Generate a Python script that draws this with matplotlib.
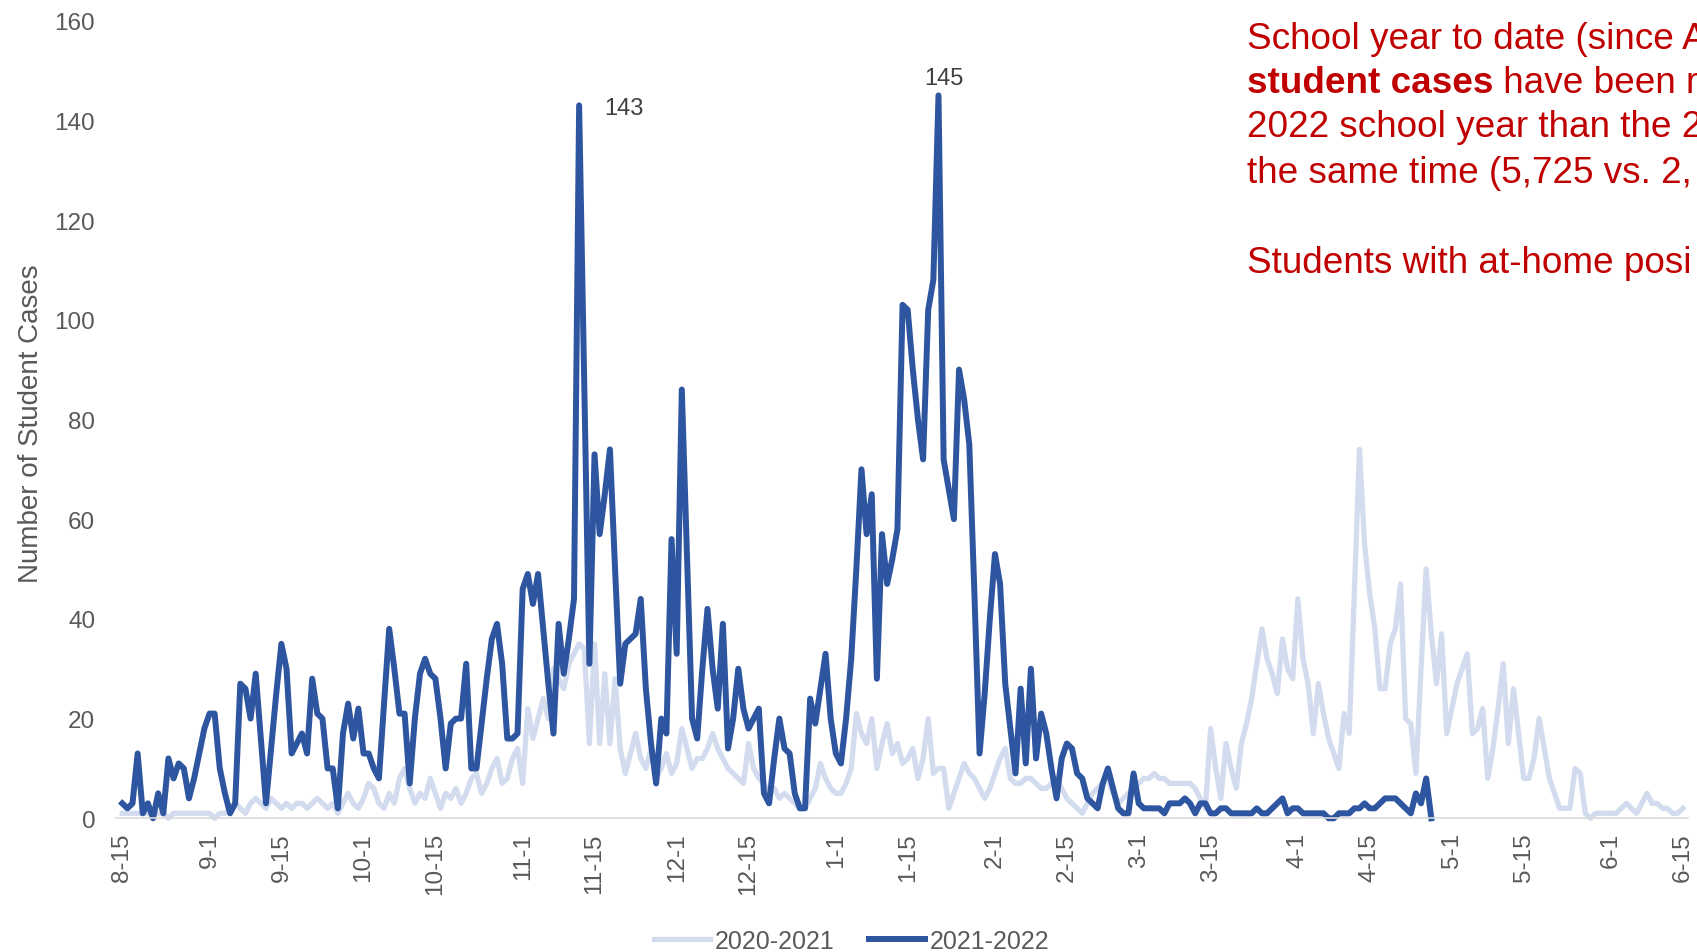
import numpy as np
import pandas as pd
import matplotlib
matplotlib.use("Agg")
import matplotlib.pyplot as plt

plt.rcParams['font.family'] = ['Liberation Sans', 'DejaVu Sans']

# daily student cases, both school years lined up from Aug 15
start = pd.Timestamp('2021-08-15')

cases_2021 = [
    1, 1, 1, 1, 1, 1, 1, 1, 1, 0,
    1, 1, 1, 1, 1, 1, 1, 1, 0, 1,
    1, 2, 3, 2, 1, 3, 4, 3, 2, 4,
    3, 2, 3, 2, 3, 3, 2, 3, 4, 3,
    2, 3, 1, 3, 5, 3, 2, 4, 7, 6,
    3, 2, 5, 3, 8, 10, 6, 3, 5, 4,
    8, 5, 2, 5, 4, 6, 3, 5, 8, 9,
    5, 7, 10, 12, 7, 8, 12, 14, 7, 22,
    16, 20, 24, 20, 30, 28, 26, 31, 33, 35,
    34, 15, 35, 15, 29, 15, 28, 14, 9, 13,
    17, 12, 10, 14, 8, 10, 13, 9, 11, 18,
    14, 10, 12, 12, 14, 17, 14, 12, 10, 9,
    8, 7, 15, 10, 8, 7, 5, 6, 4, 5,
    4, 3, 2, 2, 4, 6, 11, 8, 6, 5,
    5, 7, 10, 21, 17, 15, 20, 10, 15, 19,
    13, 15, 11, 12, 14, 8, 12, 20, 9, 10,
    10, 2, 5, 8, 11, 9, 8, 6, 4, 6,
    9, 12, 14, 8, 7, 7, 8, 8, 7, 6,
    6, 7, 8, 6, 4, 3, 2, 1, 3, 5,
    6, 7, 8, 5, 3, 4, 5, 6, 7, 8,
    8, 9, 8, 8, 7, 7, 7, 7, 7, 6,
    4, 2, 18, 10, 4, 15, 10, 6, 15, 19,
    24, 31, 38, 32, 29, 25, 36, 30, 28, 44,
    32, 27, 17, 27, 21, 16, 13, 10, 21, 17,
    45, 74, 55, 45, 38, 26, 26, 35, 38, 47,
    20, 19, 9, 30, 50, 37, 27, 37, 17, 22,
    27, 30, 33, 17, 18, 22, 8, 14, 22, 31,
    15, 26, 17, 8, 8, 12, 20, 14, 8, 5,
    2, 2, 2, 10, 9, 1, 0, 1, 1, 1,
    1, 1, 2, 3, 2, 1, 3, 5, 3, 3,
    2, 2, 1, 1, 2,
]

cases_2122 = [
    3, 2, 3, 13, 1, 3, 0, 5, 1, 12,
    8, 11, 10, 4, 8, 13, 18, 21, 21, 10,
    5, 1, 3, 27, 26, 20, 29, 16, 3, 14,
    25, 35, 30, 13, 15, 17, 13, 28, 21, 20,
    10, 10, 2, 17, 23, 16, 22, 13, 13, 10,
    8, 23, 38, 30, 21, 21, 7, 20, 29, 32,
    29, 28, 20, 10, 19, 20, 20, 31, 10, 10,
    19, 28, 36, 39, 31, 16, 16, 17, 46, 49,
    43, 49, 38, 27, 17, 39, 29, 36, 44, 143,
    87, 31, 73, 57, 65, 74, 50, 27, 35, 36,
    37, 44, 26, 15, 7, 20, 17, 56, 33, 86,
    53, 20, 16, 30, 42, 30, 22, 39, 14, 20,
    30, 22, 18, 20, 22, 5, 3, 12, 20, 14,
    13, 5, 2, 2, 24, 19, 26, 33, 20, 13,
    11, 20, 32, 50, 70, 57, 65, 28, 57, 47,
    52, 58, 103, 102, 90, 80, 72, 102, 108, 145,
    72, 66, 60, 90, 84, 75, 45, 13, 25, 40,
    53, 47, 27, 18, 9, 26, 11, 30, 12, 21,
    17, 10, 4, 12, 15, 14, 9, 8, 4, 3,
    2, 7, 10, 6, 2, 1, 1, 9, 3, 2,
    2, 2, 2, 1, 3, 3, 3, 4, 3, 1,
    3, 3, 1, 1, 2, 2, 1, 1, 1, 1,
    1, 2, 1, 1, 2, 3, 4, 1, 2, 2,
    1, 1, 1, 1, 1, 0, 0, 1, 1, 1,
    2, 2, 3, 2, 2, 3, 4, 4, 4, 3,
    2, 1, 5, 3, 8, 0,
]

tick_labels = ['8-15', '9-1', '9-15', '10-1', '10-15', '11-1', '11-15',
               '12-1', '12-15', '1-1', '1-15', '2-1', '2-15', '3-1', '3-15',
               '4-1', '4-15', '5-1', '5-15', '6-1', '6-15']
peak_values = [143, 145]


def label_to_day(lbl):
    m, d = map(int, lbl.split('-'))
    year = 2021 if m >= 8 else 2022
    return (pd.Timestamp(year=year, month=m, day=d) - start).days


tick_pos = [label_to_day(t) for t in tick_labels]
days_2021 = np.arange(len(cases_2021))
days_2122 = np.arange(len(cases_2122))

grey = '#595959'
light = '#D3DCEE'
dark = '#2E55A0'

fig = plt.figure(figsize=(16.97, 9.53), dpi=100)
ax = fig.add_axes([0.0684, 0.1403, 0.9263, 0.837])

ax.plot(days_2021, cases_2021, color=light, lw=3.8, label='2020-2021',
        clip_on=False, solid_joinstyle='round')
ax.plot(days_2122, cases_2122, color=dark, lw=4.3, label='2021-2022',
        clip_on=False, solid_joinstyle='round')

ax.set_xlim(-1.2, 305)
ax.set_ylim(0, 160)
ax.set_xticks(tick_pos)
ax.set_xticklabels(tick_labels)
ax.set_yticks(range(0, 161, 20))
ax.tick_params(axis='x', rotation=90, length=0, pad=10, labelsize=17.5,
               labelcolor=grey)
ax.tick_params(axis='y', length=0, pad=15, labelsize=17.5, labelcolor=grey)
for s in ['top', 'right', 'left']:
    ax.spines[s].set_visible(False)
ax.spines['bottom'].set_color('#D9D9D9')
ax.spines['bottom'].set_linewidth(1.2)

# peak labels
i1 = cases_2122.index(peak_values[0])
ax.annotate(str(cases_2122[i1]), xy=(i1, cases_2122[i1]), xytext=(18, -6.5),
            textcoords='offset points', ha='left', va='baseline',
            fontsize=17, color='#404040')
i2 = cases_2122.index(peak_values[1])
ax.annotate(str(cases_2122[i2]), xy=(i2, cases_2122[i2]), xytext=(4, 8),
            textcoords='offset points', ha='center', va='baseline',
            fontsize=17, color='#404040')

fig.text(0.0181, 0.555, 'Number of Student Cases', rotation=90,
         ha='center', va='center', fontsize=20, color=grey)

fig.legend(loc='center', bbox_to_anchor=(0.502, 0.0115), ncol=2,
           frameon=False, fontsize=18, handlelength=2.24, handletextpad=0.2,
           columnspacing=1.36, labelcolor=grey)

# side note
red = '#C00000'
tx = 0.7347
fs = 26.6
H = 953.0
fig.text(tx, 1 - 49.3 / H, 'School year to date (since A', fontsize=fs,
         color=red, va='baseline')
t_bold = fig.text(tx, 1 - 92.7 / H, 'student cases', fontsize=fs, color=red,
                  va='baseline', fontweight='bold')
ax.annotate(' have been r', xy=(1, 0), xycoords=t_bold, ha='left',
            va='bottom', fontsize=fs, color=red)
fig.text(tx, 1 - 137.3 / H, '2022 school year than the 2', fontsize=fs,
         color=red, va='baseline')
fig.text(tx, 1 - 182.7 / H, 'the same time (5,725 vs. 2,', fontsize=fs,
         color=red, va='baseline')
fig.text(tx, 1 - 272.7 / H, 'Students with at-home posi', fontsize=fs,
         color=red, va='baseline')

fig.savefig('out.png', dpi=100)
